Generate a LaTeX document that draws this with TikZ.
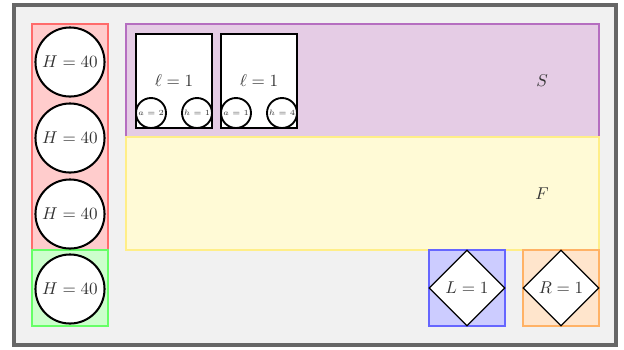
\documentclass[tikz,border=0pt]{standalone}
\usetikzlibrary{shapes.geometric}
\definecolor{frameg}{HTML}{666666}
\definecolor{bgg}{HTML}{F1F1F1}
\definecolor{redf}{HTML}{FFCCCC}
\definecolor{redd}{HTML}{FF6B6B}
\definecolor{greenf}{HTML}{CCFFCC}
\definecolor{greend}{HTML}{66FF66}
\definecolor{purf}{HTML}{E5CCE5}
\definecolor{purd}{HTML}{B56EC0}
\definecolor{yelf}{HTML}{FFFAD6}
\definecolor{yeld}{HTML}{FFEE88}
\definecolor{bluef}{HTML}{CCCCFF}
\definecolor{blued}{HTML}{6666FF}
\definecolor{oraf}{HTML}{FFE5CC}
\definecolor{orad}{HTML}{FFB266}
\definecolor{txt}{HTML}{333333}
\begin{document}
\begin{tikzpicture}[x=0.64pt,y=-0.64pt,
  font=\fontsize{10.6}{12}\selectfont,
  region/.style={line width=1.1pt},
  hc/.style={circle,draw=black,fill=white,line width=1.3pt,minimum size=44.2pt,inner sep=0pt,text=txt},
  sc/.style={circle,draw=black,fill=white,line width=1.2pt,minimum size=19.2pt,inner sep=0pt,text=txt,font=\fontsize{5.4}{6}\selectfont},
  lbox/.style={draw=black,fill=white,line width=1.3pt},
  dia/.style={diamond,draw=black,fill=white,line width=0.7pt,minimum width=48.6pt,minimum height=48.6pt,inner sep=0pt,text=txt},
  lab/.style={text=txt}]
\useasboundingbox (0,0) rectangle (624,349);
\draw[draw=frameg,fill=bgg,line width=2.1pt] (14,5) rectangle (616,345);
% regions
\draw[region,draw=redd,fill=redf] (32,24) rectangle (108,250);
\draw[region,draw=greend,fill=greenf] (32,250) rectangle (108,326);
\draw[region,draw=purd,fill=purf] (126,24) rectangle (599,137);
\draw[region,draw=yeld,fill=yelf] (126,137) rectangle (599,250);
\draw[region,draw=blued,fill=bluef] (429,250) rectangle (505,326);
\draw[region,draw=orad,fill=oraf] (523,250) rectangle (599,326);
\node[lab] (S) at (542,81) {$S$};
\node[lab] (F) at (542,194) {$F$};
% H circles
\node[hc] (h1) at (70,62) {$H=40$};
\node[hc] (h2) at (70,138) {$H=40$};
\node[hc] (h3) at (70,214) {$H=40$};
\node[hc] (h4) at (70,289) {$H=40$};
% l boxes
\draw[lbox] (136,34) rectangle (212,128);
\node[lab] (l1) at (174,81) {$\ell=1$};
\draw[lbox] (221,34) rectangle (297,128);
\node[lab] (l2) at (259,81) {$\ell=1$};
\node[sc] (a1) at (151,113) {$a=2$};
\node[sc] (b1) at (197,113) {$h=1$};
\node[sc] (a2) at (236,113) {$a=1$};
\node[sc] (b2) at (282,113) {$h=4$};
% diamonds
\node[dia] (L) at (467,288) {$L=1$};
\node[dia] (R) at (561,288) {$R=1$};
\end{tikzpicture}
\end{document}
